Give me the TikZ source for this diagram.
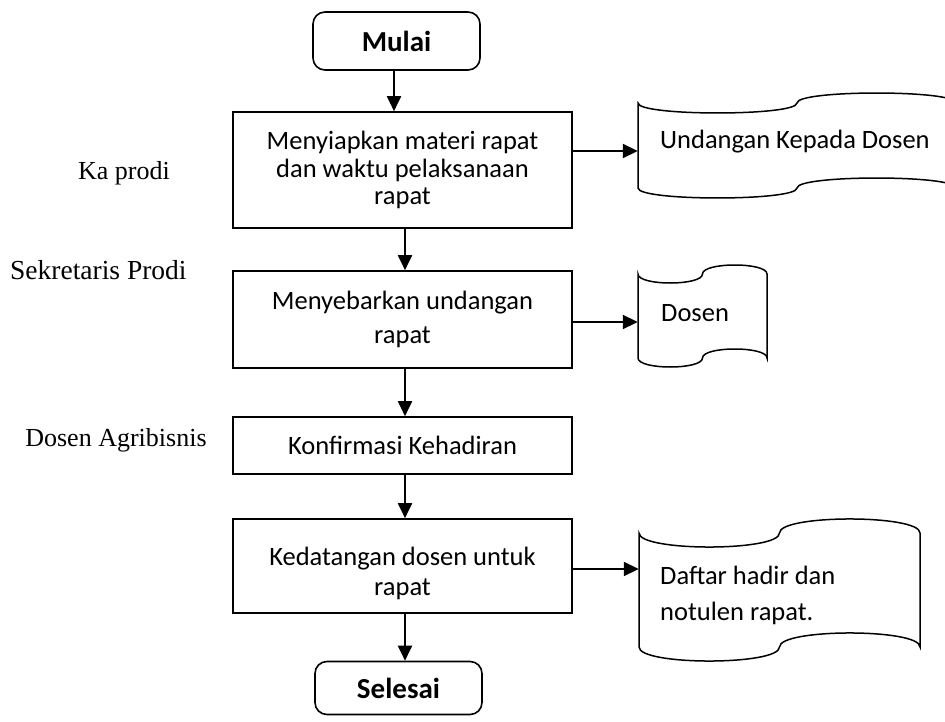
\documentclass[tikz,border=0pt]{standalone}
\usepackage{fontspec}
\setmainfont{Carlito}
\newfontfamily\timesf{Liberation Serif}
\usetikzlibrary{arrows.meta}
\begin{document}
\begin{tikzpicture}[x=1pt,y=-1pt,
  proc/.style={draw, line width=1.6pt, rectangle, inner sep=0pt, align=center, minimum width=339pt},
  term/.style={draw, line width=1.6pt, rectangle, rounded corners=12pt, inner sep=0pt, minimum width=167pt, font=\fontsize{29}{32}\selectfont\bfseries},
  tapeline/.style={line width=1.5pt},
  anchorbox/.style={inner sep=0pt, minimum height=2pt},
  tapetext/.style={anchor=west, align=left, inner sep=0pt},
  role/.style={font=\timesf\fontsize{26}{30}\selectfont, inner sep=0pt},
  arr/.style={line width=1.9pt, -{Triangle[length=15pt,width=14pt]}}]
\useasboundingbox (0,0) rectangle (945,722);
\clip (0,0) rectangle (945,722);

% terminals
\node[term, minimum height=58pt] (mulai) at (396.5,41) {Mulai};
\node[term, minimum height=53pt] (selesai) at (398.5,688) {Selesai};

% process boxes
\node[proc, minimum height=116pt, font=\fontsize{26.5}{27.5}\selectfont] (box1) at (402.5,170) {Menyiapkan materi rapat\\dan waktu pelaksanaan\\rapat};
\node[proc, minimum height=97pt, font=\fontsize{26.5}{34}\selectfont] (box2) at (402.5,319.5) {Menyebarkan undangan\\rapat};
\node[proc, minimum height=57pt, font=\fontsize{26.5}{30}\selectfont] (box3) at (402.5,445.5) {Konfirmasi Kehadiran};
\node[proc, minimum height=94pt] (box4) at (402.5,566) {};
\node[align=center, inner sep=0pt, font=\fontsize{26.5}{30}\selectfont] (box4txt) at (402.5,573) {Kedatangan dosen untuk\\rapat};

% roles
\node[role] (r1) at (124,173) {Ka prodi};
\node[role, anchor=west, font=\timesf\fontsize{27.5}{32}\selectfont] (r2) at (10,270) {Sekretaris Prodi};
\node[role] (r3) at (116,440) {Dosen Agribisnis};

% tapes (documents)
\draw[tapeline] (638,103) .. controls (638,116.3) and (797,116.3) .. (797,103)
  .. controls (797,89.7) and (956,89.7) .. (956,103) -- (956,188)
  .. controls (956,174.7) and (797,174.7) .. (797,188)
  .. controls (797,201.3) and (638,201.3) .. (638,188) -- cycle;
\node[anchorbox, minimum width=318pt] (t1) at (797,151) {};
\node[tapetext, font=\fontsize{26.5}{30}\selectfont] (t1txt) at (660,142) {Undangan Kepada Dosen};

\draw[tapeline] (638,274) .. controls (638,286) and (702.5,286) .. (702.5,274)
  .. controls (702.5,262) and (767,262) .. (767,274) -- (767,358)
  .. controls (767,346) and (702.5,346) .. (702.5,358)
  .. controls (702.5,370) and (638,370) .. (638,358) -- cycle;
\node[anchorbox, minimum width=129pt] (t2) at (702.5,322) {};
\node[tapetext, font=\fontsize{26.5}{30}\selectfont] (t2txt) at (661,313) {Dosen};

\draw[tapeline] (639,533) .. controls (639,551.7) and (779.5,551.7) .. (779.5,533)
  .. controls (779.5,514.3) and (920,514.3) .. (920,533) -- (920,647)
  .. controls (920,628.3) and (779.5,628.3) .. (779.5,647)
  .. controls (779.5,665.7) and (639,665.7) .. (639,647) -- cycle;
\node[anchorbox, minimum width=281pt] (t3) at (779.5,569) {};
\node[tapetext, font=\fontsize{26.5}{36}\selectfont] (t3txt) at (660,595) {Daftar hadir dan\\notulen rapat.};

% connectors
\coordinate (vx) at (405,0);
\coordinate (vm) at (394,0);
\draw[arr] (mulai.south -| vm) -- (box1.north -| vm);
\draw[arr] (box1.south -| vx) -- (box2.north -| vx);
\draw[arr] (box2.south -| vx) -- (box3.north -| vx);
\draw[arr] (box3.south -| vx) -- (box4.north -| vx);
\draw[arr] (box4.south -| vx) -- (selesai.north -| vx);
\draw[arr] (box1.east |- t1.west) -- (t1.west);
\draw[arr] (box2.east |- t2.west) -- (t2.west);
\draw[arr] (box4.east |- t3.west) -- (t3.west);
\end{tikzpicture}
\end{document}
